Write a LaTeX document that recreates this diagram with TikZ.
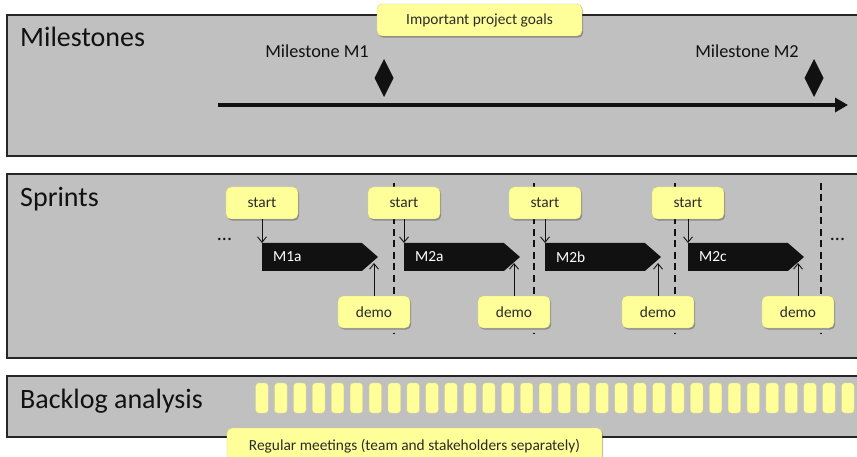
\documentclass[tikz,border=0pt]{standalone}
\usepackage{fontspec}
\setmainfont{Carlito}
\usetikzlibrary{arrows.meta,shapes.symbols,shadows}
\definecolor{panelgray}{HTML}{C0C0C0}
\definecolor{note}{HTML}{FFFF99}
\definecolor{ink}{HTML}{111111}
\definecolor{notetext}{HTML}{2B2B2B}
\tikzset{
  panel/.style={draw=black!85, line width=1.1pt, fill=panelgray, inner sep=0pt, outer sep=0pt, anchor=north west},
  paneltitle/.style={text=ink, inner sep=0pt, anchor=base west, font=\fontsize{28}{30}\selectfont},
  mlabel/.style={text=ink, inner sep=0pt, anchor=base, font=\fontsize{18.3}{20}\selectfont},
  notebox/.style={draw=note!82!black, line width=0.4pt, fill=note, rounded corners=5pt, text=notetext,
    font=\fontsize{15.4}{17}\selectfont, inner sep=0pt, outer sep=0pt,
    drop shadow={shadow xshift=1.2pt, shadow yshift=-1.6pt, opacity=0.28, fill=black}},
  tick/.style={fill=note, draw=note!85!black, line width=0.3pt, rounded corners=3pt, minimum width=12.5pt,
    minimum height=30pt, inner sep=0pt, outer sep=0pt, anchor=north west},
  sprintbar/.style={shape=signal, signal to=east, signal from=nowhere, signal pointer angle=82,
    fill=ink, minimum width=116pt, minimum height=28pt, inner sep=0pt, outer sep=0pt, anchor=west},
  barlabel/.style={text=white, inner sep=0pt, anchor=west, font=\fontsize{15.4}{17}\selectfont},
  conn/.style={draw=ink, line width=0.9pt, -{Straight Barb[length=5.5pt,width=9pt,line width=0.9pt]}},
  dashline/.style={draw=ink, line width=1.8pt, dash pattern=on 7pt off 4.5pt},
  dots/.style={text=ink, inner sep=0pt, anchor=base, font=\fontsize{20}{22}\selectfont},
}
\begin{document}
\begin{tikzpicture}[x=1pt,y=-1pt]
\useasboundingbox (0,0) rectangle (857,457);
\clip (0,0) rectangle (857,457);
\fill[white] (0,0) rectangle (857,457);

% panels
\node[panel, minimum width=853pt, minimum height=141pt] (pm) at (7,15) {};
\node[panel, minimum width=853pt, minimum height=184pt] (ps) at (7,174) {};
\node[panel, minimum width=853pt, minimum height=61pt] (pb) at (7,376) {};

\node[paneltitle] (tm) at (20,47) {Milestones};
\node[paneltitle] (ts) at (20,207) {Sprints};
\node[paneltitle] (tb) at (20,408) {Backlog analysis};

% milestones
\coordinate (t0) at (218,105);
\coordinate (t1) at (848,105);
\draw[draw=ink, line width=4pt, -{Triangle[length=13pt,width=14pt]}] (t0) -- (t1);
\node[mlabel] (m1) at (317,58) {Milestone M1};
\node[mlabel] (m2) at (747,58) {Milestone M2};
\fill[ink] (384,59) -- (393.5,78) -- (384,97) -- (374.5,78) -- cycle;
\fill[ink] (814,59) -- (823.5,78) -- (814,97) -- (804.5,78) -- cycle;
\node[notebox, minimum width=205pt, minimum height=32pt] (goals) at (479.5,20) {Important project goals};

% sprints
\foreach \x in {394,534,675,821} {
  \draw[dashline] (\x,183) -- (\x,333);
}
\node[dots] (dl) at (224.5,240.5) {...};
\node[dots] (dr) at (837.5,240.5) {...};
\foreach \i/\sx/\dx/\lab in {1/262/374/M1a, 2/404/514/M2a, 3/545/658/M2b, 4/688/798/M2c} {
  \node[notebox, minimum width=72pt, minimum height=32pt] (s\i) at (\sx,203) {start};
  \node[sprintbar] (b\i) at (\sx,257) {};
  \node[barlabel] (l\i) at ([xshift=11pt]b\i.west) {\lab};
  \node[notebox, minimum width=72pt, minimum height=32pt] (d\i) at (\dx,312) {demo};
  \draw[conn] (s\i.south) -- (s\i.south |- b\i.north);
  \draw[conn, shorten >=6pt] (d\i.north) -- (d\i.north |- b\i.east);
}

% backlog
\foreach \i in {0,...,31} {
  \node[tick] (k\i) at ({255.7+18.9*\i},383) {};
}
\node[notebox, minimum width=375pt, minimum height=36pt, anchor=north west] (reg) at (227,428)
  {Regular meetings (team and stakeholders separately)};
\end{tikzpicture}
\end{document}
